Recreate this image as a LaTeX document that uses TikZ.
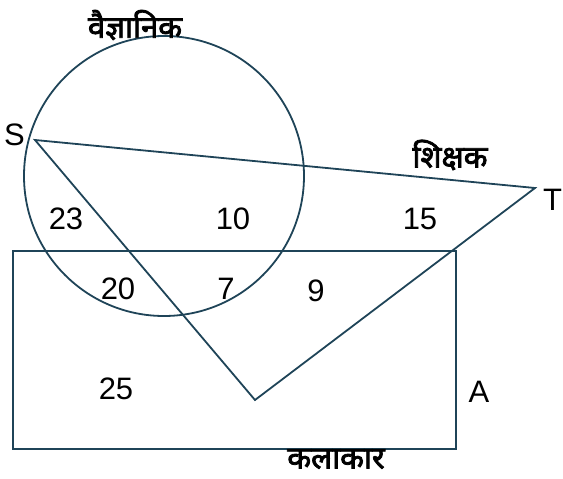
\documentclass[tikz,border=0pt]{standalone}
\usepackage{fontspec}
\setmainfont{Liberation Sans}
\newfontfamily\hindi[Script=Devanagari, FakeBold=2.5]{Noto Sans}
\usepackage{tikz}
\usetikzlibrary{positioning}

\definecolor{edge}{HTML}{1F4458}

\begin{document}
\begin{tikzpicture}[
  x=1pt, y=-1pt,
  every node/.style={font=\fontsize{31}{34}\selectfont, inner sep=0pt},
  set/.style={draw=edge, line width=1.8pt},
  num/.style={text=black},
  tag/.style={font=\hindi\fontsize{31}{34}\selectfont},
]
\useasboundingbox (0,0) rectangle (563,479);
% sets
\node[set, circle, minimum size=280pt] (sci) at (164,176) {};
\node[set, rectangle, minimum width=443pt, minimum height=198pt, anchor=north west] (art) at (12,250) {};
\coordinate (S) at (35,140);
\coordinate (T) at (535,188);
\coordinate (V) at (255,400);
\draw[set, line join=miter] (S) -- (T) -- (V) -- cycle;
% vertex and set names
\node (s) [left=10pt of S, yshift=5pt] {S};
\node (t) [right=8pt of T, yshift=-12pt] {T};
\node (a) at (479,392) {A};
\node[tag] (sciname) at (135,25) {वैज्ञानिक};
\node[tag] (teachname) at (450,155) {शिक्षक};
\node[tag] (artname) at (336,459) {कलाकार};
% region counts
\node[num] (n23) at (66,219) {23};
\node[num] (n10) at (233,219) {10};
\node[num] (n15) at (420,219) {15};
\node[num] (n20) at (118,289) {20};
\node[num] (n7)  at (226,289) {7};
\node[num] (n9)  at (316,291) {9};
\node[num] (n25) at (116,389) {25};
\end{tikzpicture}
\end{document}
